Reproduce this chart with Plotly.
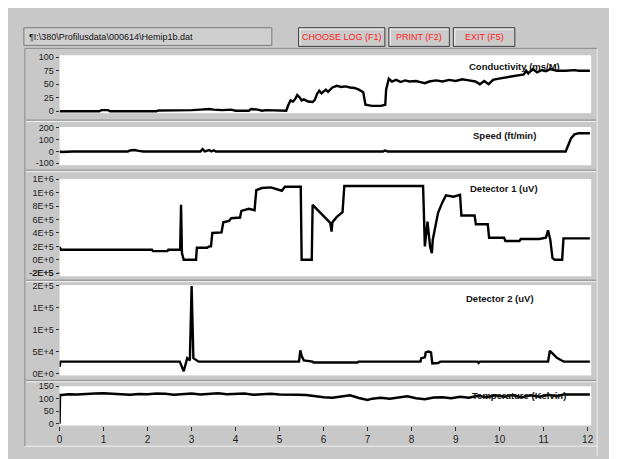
import plotly.graph_objects as go

# page body has an 8px margin, so the figure is drawn 8px in from the window's top-left
OFF = 8
W, H = 617 - OFF, 459 - OFF

# ---------------- data ----------------
cond_x = [0.0, 0.9, 0.95, 1.1, 1.15, 2.2, 2.25, 2.5, 2.6, 2.8, 3.0, 3.2, 3.4, 3.5, 3.7, 3.9, 4.0, 4.3, 4.35,
          4.5, 4.6, 4.7, 4.9, 5.15, 5.2, 5.25, 5.3, 5.35, 5.4, 5.45, 5.5, 5.55, 5.65, 5.75, 5.8, 5.85, 5.9,
          5.95, 6.05, 6.1, 6.2, 6.3, 6.4, 6.5, 6.6, 6.7, 6.8, 6.9, 6.95, 7.1, 7.3, 7.4, 7.42, 7.48, 7.55,
          7.65, 7.75, 7.85, 7.95, 8.1, 8.2, 8.3, 8.4, 8.55, 8.7, 8.85, 9.0, 9.15, 9.3, 9.45, 9.55, 9.65,
          9.75, 9.85, 9.95, 10.1, 10.25, 10.4, 10.55, 10.6, 10.65, 10.75, 10.85, 10.95, 11.05, 11.15, 11.3,
          11.5, 11.7, 11.8, 12.05]
cond_y = [0, 0, 2, 2, 0, 0, 1.5, 1.5, 1, 2, 2, 3, 4, 3, 2, 3, 1, 1, 4,
          3, 1, 2, 1, 1, 12, 20, 18, 22, 30, 26, 20, 22, 18, 17, 21, 32, 38,
          33, 40, 36, 44, 47, 45, 46, 44, 43, 40, 35, 12, 10, 10, 12, 40, 60, 55,
          58, 54, 57, 55, 56, 54, 52, 55, 57, 55, 58, 56, 59, 57, 55, 50, 56,
          50, 58, 60, 62, 64, 66, 68, 75, 70, 78, 72, 76, 74, 78, 75,
          75, 76, 75, 75]

speed_x = [0.0, 0.05, 0.3, 1.55, 1.6, 1.7, 1.8, 1.9, 3.2, 3.25, 3.3, 3.4, 3.45, 3.5, 3.55, 5.75, 5.8,
           5.85, 7.35, 7.4, 7.45, 11.5, 11.55, 11.62, 11.7, 11.8, 12.05]
speed_y = [0, -4, 0, 0, 8, 12, 5, 0, 0, 20, 0, 12, 0, 10, 0, 0, 6,
           0, 0, 8, 0, 0, 40, 110, 145, 155, 155]

det1_x = [0.0, 0.03, 2.1, 2.12, 2.45, 2.47, 2.74, 2.76, 2.78, 2.82, 3.1, 3.12, 3.35, 3.4, 3.44, 3.47,
          3.68, 3.72, 3.85, 3.9, 4.1, 4.13, 4.3, 4.43, 4.47, 4.6, 4.8, 4.95, 5.05, 5.12, 5.48, 5.5,
          5.73, 5.75, 5.9, 6.05, 6.15, 6.18, 6.2, 6.3, 6.43, 6.47, 8.26, 8.3, 8.36, 8.42, 8.46, 8.48,
          8.6, 8.7, 8.78, 8.95, 9.1, 9.13, 9.43, 9.46, 9.73, 9.76, 10.1, 10.13, 10.45, 10.48, 10.9,
          11.05, 11.1, 11.15, 11.2, 11.25, 11.42, 11.45, 12.05]
det1_y = [1.9e5, 1.5e5, 1.5e5, 1.3e5, 1.3e5, 1.5e5, 1.5e5, 8.2e5, 1.0e5, 0, 0, 1.8e5, 1.8e5, 2.0e5, 2.0e5, 4.0e5,
          4.1e5, 5.6e5, 5.8e5, 6.2e5, 6.3e5, 7.3e5, 7.6e5, 7.4e5, 1.04e6, 1.07e6, 1.08e6, 1.05e6, 1.03e6, 1.09e6, 1.09e6, 0,
          0, 8.2e5, 7.2e5, 6.2e5, 5.5e5, 4.2e5, 5.6e5, 6.4e5, 7.1e5, 1.1e6, 1.1e6, 2.0e5, 5.7e5, 1.9e5, 1.0e5, 3.0e5,
          7.0e5, 8.6e5, 9.6e5, 9.4e5, 9.7e5, 6.6e5, 6.6e5, 5.3e5, 5.3e5, 3.3e5, 3.3e5, 2.8e5, 2.8e5, 3.1e5, 3.1e5,
          3.3e5, 4.4e5, 3.0e5, 0.3e5, 0, 0, 3.2e5, 3.2e5]

det2_x = [0.0, 0.02, 2.73, 2.78, 2.82, 2.86, 2.9, 2.96, 3.0, 3.04, 3.12, 3.16, 5.44, 5.47, 5.5, 5.55, 5.75,
          5.77, 6.77, 6.79, 8.2, 8.22, 8.3, 8.32, 8.38, 8.44, 8.47, 8.6, 8.65, 9.5, 9.52, 9.55, 11.1, 11.14,
          11.2, 11.3, 11.42, 11.46, 12.05]
det2_y = [1.5e4, 2.7e4, 2.7e4, 1.5e4, 0.5e4, 2.0e4, 3.5e4, 3.0e4, 2.0e5, 3.5e4, 3.0e4, 2.7e4, 2.7e4, 5.3e4, 4.0e4, 3.0e4, 2.7e4,
          2.5e4, 2.5e4, 2.7e4, 2.7e4, 3.5e4, 3.7e4, 4.8e4, 5.0e4, 4.8e4, 2.3e4, 2.4e4, 2.7e4, 2.7e4, 2.4e4, 2.7e4, 2.7e4, 5.2e4,
          4.6e4, 3.6e4, 2.9e4, 2.7e4, 2.7e4]

temp_x = [0.0, 0.01, 0.05, 0.2, 0.4, 0.6, 0.8, 1.0, 1.2, 1.4, 1.6, 1.8, 2.0, 2.2, 2.4, 2.6, 2.8, 3.0, 3.2,
          3.4, 3.6, 3.8, 4.0, 4.2, 4.4, 4.6, 4.8, 5.0, 5.2, 5.4, 5.6, 5.8, 6.0, 6.2, 6.4, 6.6, 6.8, 7.0,
          7.1, 7.3, 7.5, 7.7, 7.9, 8.1, 8.3, 8.5, 8.7, 8.9, 9.1, 9.3, 9.5, 9.7, 9.9, 10.1, 10.3, 10.5,
          10.7, 10.9, 11.1, 11.3, 11.45, 11.55, 12.05]
temp_y = [0, 115, 115, 118, 117, 120, 121, 122, 120, 121, 116, 119, 118, 121, 120, 116, 118, 121, 117,
          120, 122, 118, 120, 121, 116, 119, 120, 117, 115, 116, 115, 110, 106, 104, 110, 114, 103, 95,
          100, 104, 100, 104, 110, 102, 98, 105, 106, 102, 108, 104, 112, 106, 114, 108, 115, 105,
          114, 108, 116, 110, 117, 117, 117]

x_ticks = list(range(13))
cond_ticks = [0, 25, 50, 75, 100]
speed_ticks = [-100, 0, 100, 200]
det1_ticks = [-2e5, 0, 2e5, 4e5, 6e5, 8e5, 1e6, 1.2e6]
det1_labels = ["-2E+5", "0E+0", "2E+5", "4E+5", "6E+5", "8E+5", "1E+6", "1E+6"]
det2_ticks = [0, 5e4, 1e5, 1.5e5, 2e5]
det2_labels = ["0E+0", "5E+4", "1E+5", "1E+5", "2E+5"]
temp_ticks = [0, 50, 100, 150]

panel_names = ["Conductivity (ms/M)", "Speed (ft/min)", "Detector 1 (uV)", "Detector 2 (uV)",
               "Temperature (Kelvin)"]

# ---------------- layout helpers (window pixel coords -> paper) ----------------
def px(x):
    return (x - OFF) / W

def py(y):
    return 1 - (y - OFF) / H

GRAY = "#c8c8c8"
FONT = "Liberation Sans"

boxes = [(51, 110), (124, 163), (177, 276), (285, 377), (388, 428)]
xdom = [px(57), px(593)]
yranges = [[-3.6, 103.6], [-117, 208], [-2.45e5, 1.205e6], [-4.5e3, 2.02e5], [-7.7, 150]]
ytv = [cond_ticks, speed_ticks, det1_ticks, det2_ticks, temp_ticks]
ytt = [[str(v) for v in cond_ticks], [str(v) for v in speed_ticks], det1_labels, det2_labels,
       [str(v) for v in temp_ticks]]
series = [(cond_x, cond_y), (speed_x, speed_y), (det1_x, det1_y), (det2_x, det2_y), (temp_x, temp_y)]

fig = go.Figure()
layout = dict(width=W, height=H, margin=dict(l=0, r=0, t=0, b=0), paper_bgcolor=GRAY,
              plot_bgcolor="white", showlegend=False, font=dict(family=FONT, size=9, color="#222"))

for i, ((xs, ys), (t, b)) in enumerate(zip(series, boxes)):
    n = i + 1
    xa = "x" if n == 1 else f"x{n}"
    ya = "y" if n == 1 else f"y{n}"
    fig.add_trace(go.Scatter(x=xs, y=ys, mode="lines", xaxis=xa, yaxis=ya,
                             line=dict(color="black", width=2.4), hoverinfo="skip"))
    last = (n == 5)
    layout["xaxis" if n == 1 else f"xaxis{n}"] = dict(
        domain=xdom, range=[0, 12.08], anchor=ya, showgrid=False, zeroline=False,
        showline=False, tickvals=x_ticks if last else [], ticks="outside" if last else "",
        ticklen=4, tickcolor="#333", showticklabels=last, tickfont=dict(size=10, color="#222"),
        fixedrange=True)
    layout["yaxis" if n == 1 else f"yaxis{n}"] = dict(
        domain=[py(b), py(t)], range=yranges[i], anchor=xa, showgrid=False, zeroline=False,
        showline=False, tickvals=ytv[i], ticktext=ytt[i], ticks="outside", ticklen=3,
        tickcolor="#333", tickfont=dict(size=9, color="#222"), fixedrange=True,
        ticklabeloverflow="allow")

fig.update_layout(**layout)

shapes = []
# right window strip and main sunken frame
shapes.append(dict(type="line", xref="paper", yref="paper", x0=px(599), x1=px(599), y0=0, y1=py(44),
                   line=dict(color="#ededed", width=1)))
shapes.append(dict(type="line", xref="paper", yref="paper", x0=px(22), x1=px(22), y0=py(449), y1=py(44),
                   line=dict(color="#8a8a8a", width=1)))
shapes.append(dict(type="line", xref="paper", yref="paper", x0=px(22), x1=px(599), y0=py(44), y1=py(44),
                   line=dict(color="#8a8a8a", width=1)))
shapes.append(dict(type="line", xref="paper", yref="paper", x0=px(22), x1=px(599), y0=py(449), y1=py(449),
                   line=dict(color="#efefef", width=1)))
# panel separators (sunken double lines)
for yy in [117, 168, 280, 382]:
    shapes.append(dict(type="line", xref="paper", yref="paper", x0=px(23), x1=px(598), y0=py(yy), y1=py(yy),
                       line=dict(color="#8c8c8c", width=1)))
    shapes.append(dict(type="line", xref="paper", yref="paper", x0=px(23), x1=px(598), y0=py(yy + 1.5),
                       y1=py(yy + 1.5), line=dict(color="#f0f0f0", width=1)))
# lowest Detector 1 tick (drawn explicitly so it always shows)
shapes.append(dict(type="line", xref="paper", yref="y3", x0=px(54), x1=px(57), y0=det1_ticks[0],
                   y1=det1_ticks[0], line=dict(color="#333", width=1)))
# file path textbox
shapes.append(dict(type="rect", xref="paper", yref="paper", x0=px(21), x1=px(271), y0=py(41), y1=py(23),
                   fillcolor="#cfcfcf", line=dict(color="#7a7a7a", width=1)))
# buttons
buttons = [("CHOOSE LOG (F1)", 298, 385), ("PRINT (F2)", 389, 450), ("EXIT (F5)", 454, 516)]
for label, x0, x1 in buttons:
    shapes.append(dict(type="rect", xref="paper", yref="paper", x0=px(x0), x1=px(x1), y0=py(42), y1=py(23),
                       fillcolor="#cbcbcb", line=dict(color="#3a3a3a", width=1)))
    shapes.append(dict(type="line", xref="paper", yref="paper", x0=px(x0 + 1), x1=px(x1 - 1), y0=py(24.5),
                       y1=py(24.5), line=dict(color="#f4f4f4", width=1)))
    shapes.append(dict(type="line", xref="paper", yref="paper", x0=px(x0 + 1.5), x1=px(x0 + 1.5), y0=py(41),
                       y1=py(24), line=dict(color="#f4f4f4", width=1)))
fig.update_layout(shapes=shapes)

ann = []
ann.append(dict(text="¶I:\\380\\Profilusdata\\000614\\Hemip1b.dat", xref="paper", yref="paper",
                x=px(24), y=py(32), xanchor="left", yanchor="middle", showarrow=False,
                font=dict(family=FONT, size=9, color="#111")))
for label, x0, x1 in buttons:
    ann.append(dict(text=label, xref="paper", yref="paper", x=px((x0 + x1) / 2), y=py(32.5),
                    xanchor="center", yanchor="middle", showarrow=False,
                    font=dict(family=FONT, size=9, color="#ff1a1a")))
label_pos = [(468, 62, "left"), (472, 133, "left"), (469, 187, "left"), (465, 299, "left"),
             (570, 397, "right")]
for name, (lx, ly, anc) in zip(panel_names, label_pos):
    ann.append(dict(text="<b>" + name + "</b>", xref="paper", yref="paper", x=px(lx), y=py(ly),
                    xanchor=anc, yanchor="middle", showarrow=False,
                    font=dict(family=FONT, size=9.5, color="#111")))
# lowest Detector 1 tick label
ann.append(dict(text=det1_labels[0], xref="paper", yref="y3", x=px(52.5), y=det1_ticks[0],
                xanchor="right", yanchor="middle", showarrow=False,
                font=dict(family=FONT, size=9, color="#222")))
fig.update_layout(annotations=ann)

fig.write_html("out.html")
